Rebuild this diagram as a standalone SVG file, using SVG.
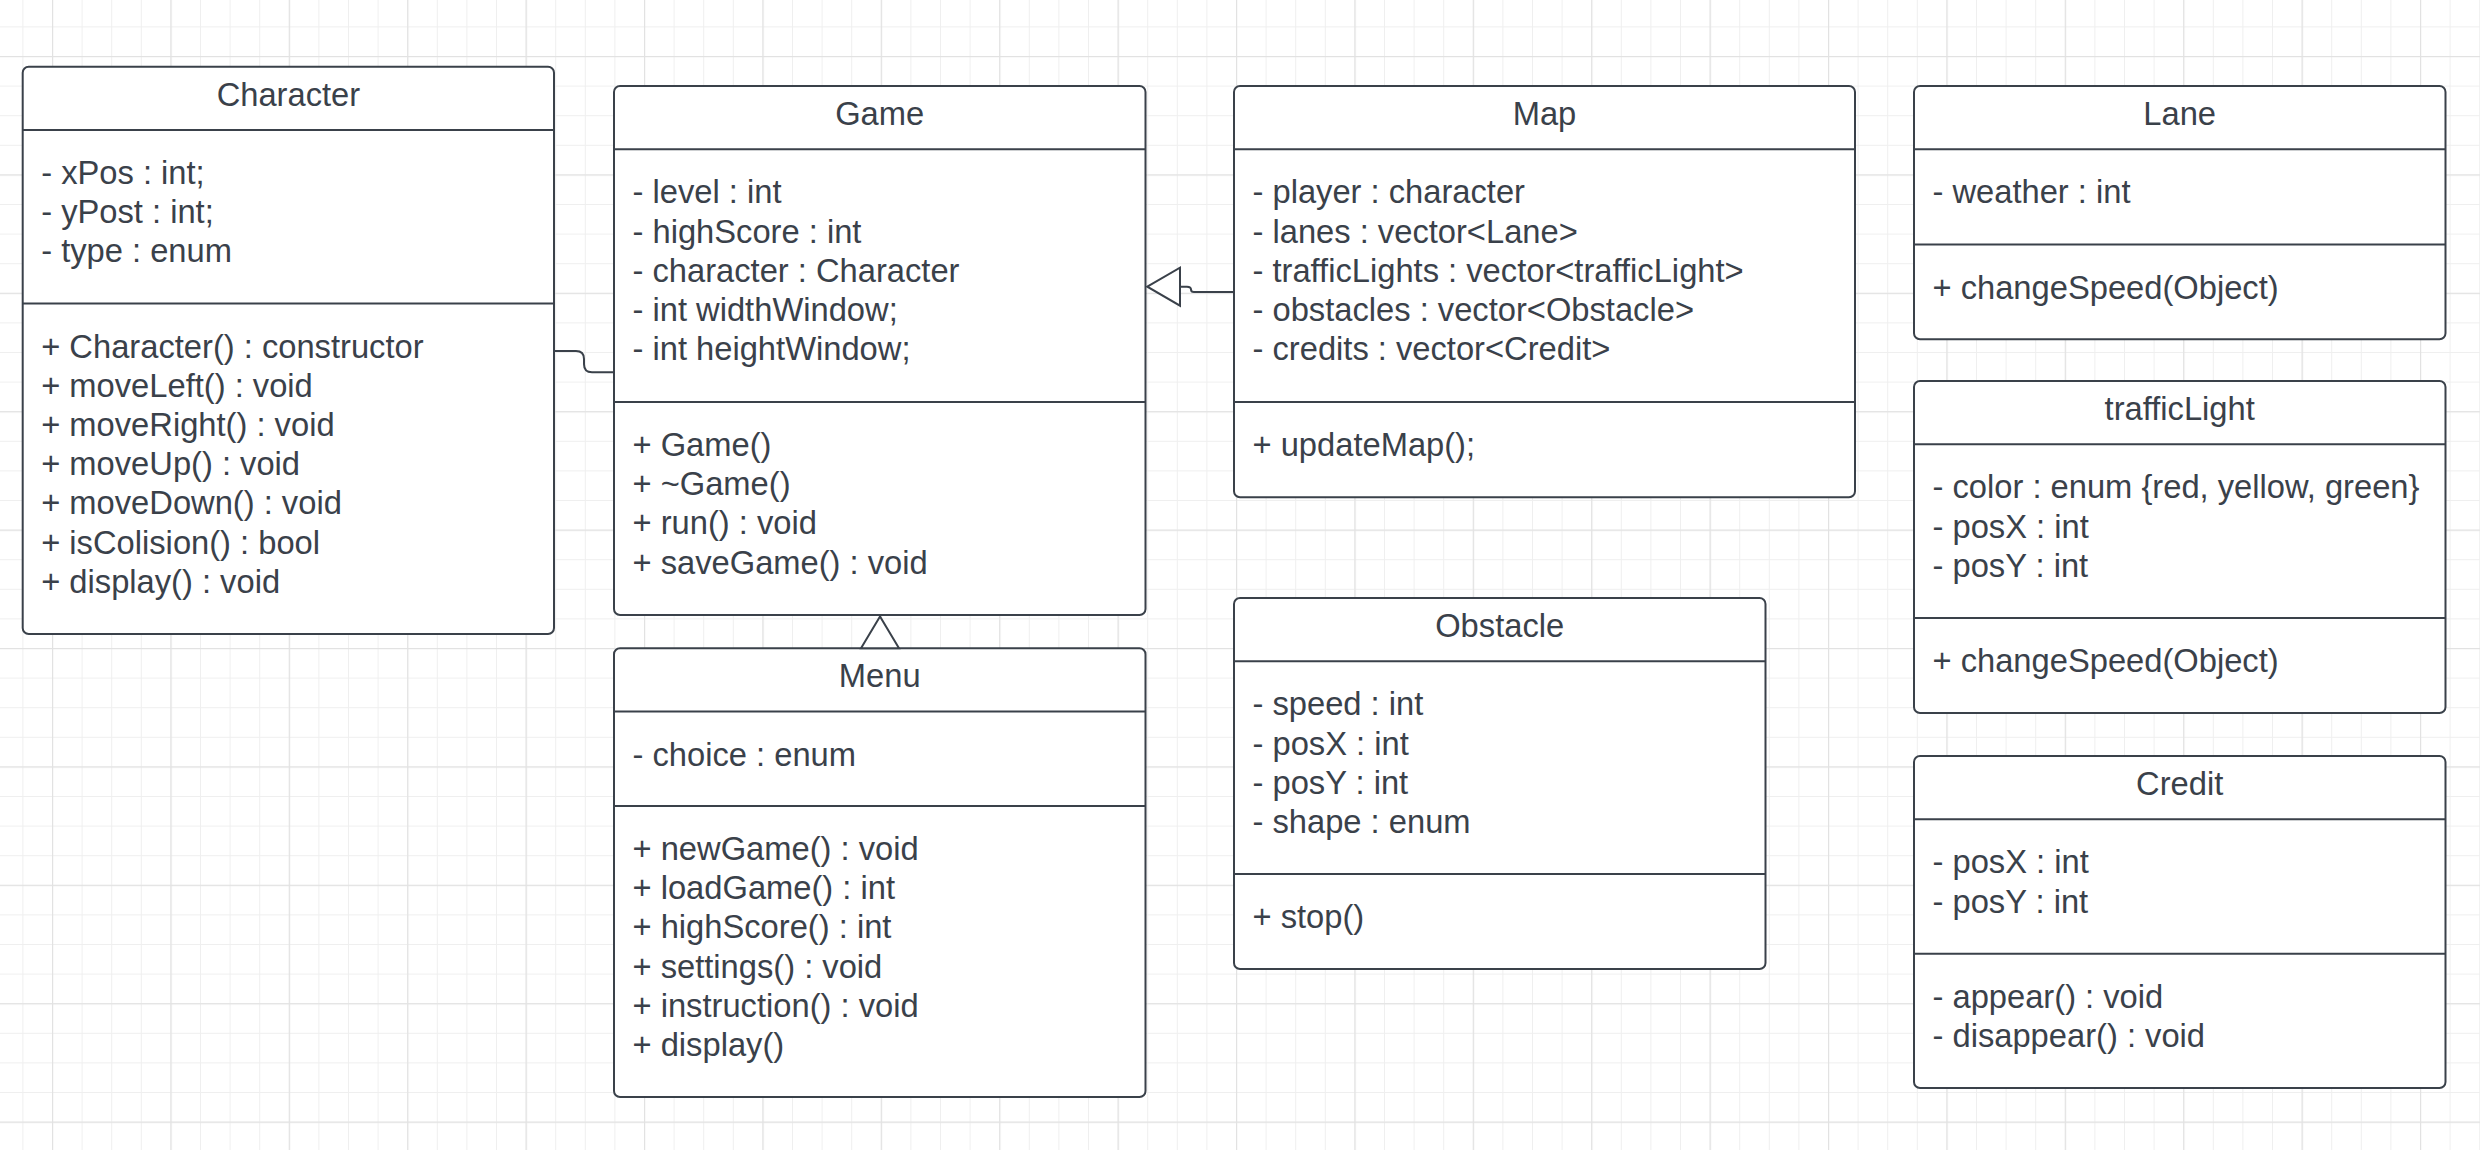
<svg xmlns="http://www.w3.org/2000/svg" width="2480" height="1150" viewBox="0 0 2480 1150">
<defs>
<pattern id="minor" patternUnits="userSpaceOnUse" x="52" y="56" width="29.6" height="29.6">
<rect x="0" y="0" width="29.6" height="1" fill="#efefef"/>
<rect x="0" y="0" width="1" height="29.6" fill="#efefef"/>
</pattern>
<pattern id="major" patternUnits="userSpaceOnUse" x="52" y="56" width="118.4" height="118.4">
<rect x="0" y="0" width="118.4" height="1.2" fill="#e2e2e2"/>
<rect x="0" y="0" width="1.2" height="118.4" fill="#e2e2e2"/>
</pattern>
</defs>
<style>
.box{fill:#ffffff;stroke:#3a414a;stroke-width:2}
.sep{stroke:#3a414a;stroke-width:2;fill:none}
.t{font-family:"Liberation Sans",Arial,sans-serif;font-size:32.7px;fill:#3a414a}
.title{text-anchor:middle}
.conn{fill:none;stroke:#3a414a;stroke-width:2}
.tri{fill:#ffffff;stroke:#3a414a;stroke-width:2;stroke-linejoin:miter}
</style>
<rect width="2480" height="1150" fill="#ffffff"/>
<rect width="2480" height="1150" fill="url(#minor)"/>
<rect width="2480" height="1150" fill="url(#major)"/>

<g id="Character">
<rect class="box" x="22.7" y="66.7" width="531.3" height="567.3" rx="6"/>
<line class="sep" x1="22.7" y1="130" x2="554" y2="130"/>
<line class="sep" x1="22.7" y1="303.6" x2="554" y2="303.6"/>
<text class="t title" x="288.4" y="105.7">Character</text>
<text class="t" x="41.2" y="184">- xPos : int;</text>
<text class="t" x="41.2" y="223.2">- yPost : int;</text>
<text class="t" x="41.2" y="262.4">- type : enum</text>
<text class="t" x="41.2" y="357.6">+ Character() : constructor</text>
<text class="t" x="41.2" y="396.8">+ moveLeft() : void</text>
<text class="t" x="41.2" y="436">+ moveRight() : void</text>
<text class="t" x="41.2" y="475.2">+ moveUp() : void</text>
<text class="t" x="41.2" y="514.4">+ moveDown() : void</text>
<text class="t" x="41.2" y="553.6">+ isColision() : bool</text>
<text class="t" x="41.2" y="592.8">+ display() : void</text>
</g>

<g id="Game">
<rect class="box" x="614" y="86" width="531.5" height="529" rx="6"/>
<line class="sep" x1="614" y1="149.3" x2="1145.5" y2="149.3"/>
<line class="sep" x1="614" y1="402" x2="1145.5" y2="402"/>
<text class="t title" x="879.7" y="125">Game</text>
<text class="t" x="632.5" y="203.3">- level : int</text>
<text class="t" x="632.5" y="242.5">- highScore : int</text>
<text class="t" x="632.5" y="281.7">- character : Character</text>
<text class="t" x="632.5" y="320.9">- int widthWindow;</text>
<text class="t" x="632.5" y="360.1">- int heightWindow;</text>
<text class="t" x="632.5" y="456">+ Game()</text>
<text class="t" x="632.5" y="495.2">+ ~Game()</text>
<text class="t" x="632.5" y="534.4">+ run() : void</text>
<text class="t" x="632.5" y="573.6">+ saveGame() : void</text>
</g>

<g id="Menu">
<rect class="box" x="614" y="648.3" width="531.5" height="448.7" rx="6"/>
<line class="sep" x1="614" y1="711.6" x2="1145.5" y2="711.6"/>
<line class="sep" x1="614" y1="806" x2="1145.5" y2="806"/>
<text class="t title" x="879.7" y="687.3">Menu</text>
<text class="t" x="632.5" y="765.6">- choice : enum</text>
<text class="t" x="632.5" y="860">+ newGame() : void</text>
<text class="t" x="632.5" y="899.2">+ loadGame() : int</text>
<text class="t" x="632.5" y="938.4">+ highScore() : int</text>
<text class="t" x="632.5" y="977.6">+ settings() : void</text>
<text class="t" x="632.5" y="1016.8">+ instruction() : void</text>
<text class="t" x="632.5" y="1056">+ display()</text>
</g>

<g id="Map">
<rect class="box" x="1234" y="86" width="621" height="411.2" rx="6"/>
<line class="sep" x1="1234" y1="149.3" x2="1855" y2="149.3"/>
<line class="sep" x1="1234" y1="402" x2="1855" y2="402"/>
<text class="t title" x="1544.5" y="125">Map</text>
<text class="t" x="1252.5" y="203.3">- player : character</text>
<text class="t" x="1252.5" y="242.5">- lanes : vector&lt;Lane&gt;</text>
<text class="t" x="1252.5" y="281.7">- trafficLights : vector&lt;trafficLight&gt;</text>
<text class="t" x="1252.5" y="320.9">- obstacles : vector&lt;Obstacle&gt;</text>
<text class="t" x="1252.5" y="360.1">- credits : vector&lt;Credit&gt;</text>
<text class="t" x="1252.5" y="456">+ updateMap();</text>
</g>

<g id="Obstacle">
<rect class="box" x="1234" y="598" width="531.5" height="371" rx="6"/>
<line class="sep" x1="1234" y1="661.3" x2="1765.5" y2="661.3"/>
<line class="sep" x1="1234" y1="874" x2="1765.5" y2="874"/>
<text class="t title" x="1499.7" y="637">Obstacle</text>
<text class="t" x="1252.5" y="715.3">- speed : int</text>
<text class="t" x="1252.5" y="754.5">- posX : int</text>
<text class="t" x="1252.5" y="793.7">- posY : int</text>
<text class="t" x="1252.5" y="832.9">- shape : enum</text>
<text class="t" x="1252.5" y="928">+ stop()</text>
</g>

<g id="Lane">
<rect class="box" x="1914" y="86" width="531.5" height="253.2" rx="6"/>
<line class="sep" x1="1914" y1="149.3" x2="2445.5" y2="149.3"/>
<line class="sep" x1="1914" y1="244.5" x2="2445.5" y2="244.5"/>
<text class="t title" x="2179.7" y="125">Lane</text>
<text class="t" x="1932.5" y="203.3">- weather : int</text>
<text class="t" x="1932.5" y="298.5">+ changeSpeed(Object)</text>
</g>

<g id="trafficLight">
<rect class="box" x="1914" y="381" width="531.5" height="332" rx="6"/>
<line class="sep" x1="1914" y1="444.3" x2="2445.5" y2="444.3"/>
<line class="sep" x1="1914" y1="618" x2="2445.5" y2="618"/>
<text class="t title" x="2179.7" y="420">trafficLight</text>
<text class="t" x="1932.5" y="498.3">- color : enum {red, yellow, green}</text>
<text class="t" x="1932.5" y="537.5">- posX : int</text>
<text class="t" x="1932.5" y="576.7">- posY : int</text>
<text class="t" x="1932.5" y="672">+ changeSpeed(Object)</text>
</g>

<g id="Credit">
<rect class="box" x="1914" y="756" width="531.5" height="332" rx="6"/>
<line class="sep" x1="1914" y1="819.3" x2="2445.5" y2="819.3"/>
<line class="sep" x1="1914" y1="953.7" x2="2445.5" y2="953.7"/>
<text class="t title" x="2179.7" y="795">Credit</text>
<text class="t" x="1932.5" y="873.3">- posX : int</text>
<text class="t" x="1932.5" y="912.5">- posY : int</text>
<text class="t" x="1932.5" y="1007.7">- appear() : void</text>
<text class="t" x="1932.5" y="1046.9">- disappear() : void</text>
</g>

<g id="connectors">
<path class="conn" d="M554,351 H576 Q584,351 584,359 V364.3 Q584,372.3 592,372.3 H613"/>
<path class="conn" d="M1180,286.7 H1187 Q1191,286.7 1191,289.5 Q1191,292 1194,292 H1234"/>
<polygon class="tri" points="1147.3,286.7 1180,267.7 1180,305.7"/>
<polygon class="tri" points="880,616.5 861,648.3 899,648.3"/>
</g>
</svg>
